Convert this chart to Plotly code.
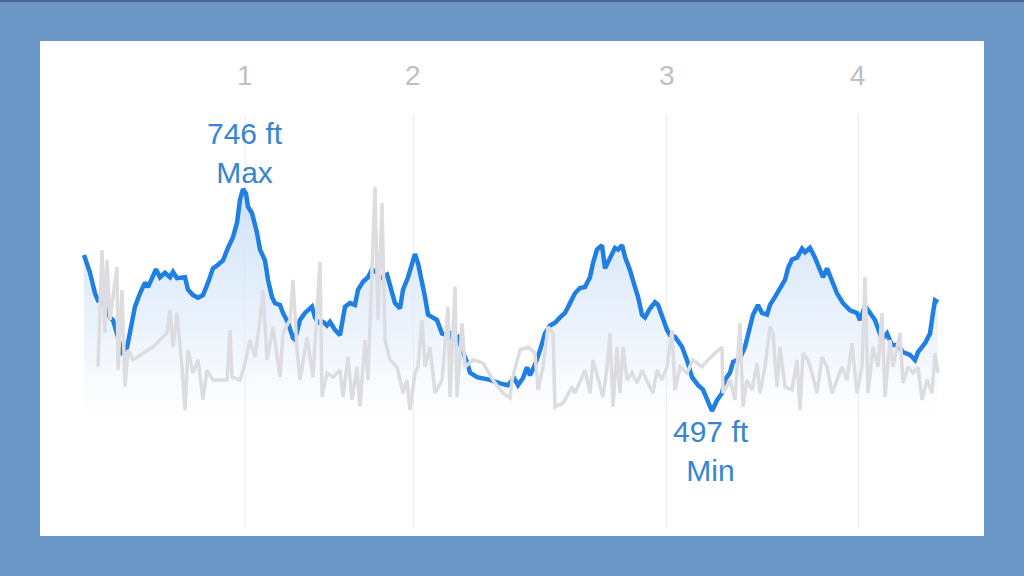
import plotly.graph_objects as go

# ---- Elevation (ft) vs elapsed time (min) ----
elev_time = [
    0.05, 0.35, 0.6, 0.75, 1.0, 1.2, 1.35, 1.5, 1.75, 1.95,
    2.2, 2.35, 2.6, 2.85, 3.1, 3.25, 3.45, 3.65, 3.85, 4.1,
    4.35, 4.5, 4.7, 4.95, 5.1, 5.25, 5.5, 5.75, 6.0, 6.25,
    6.5, 6.75, 7.0, 7.25, 7.5, 7.7, 7.85, 8.0, 8.15, 8.25,
    8.45, 8.7, 8.85, 9.1, 9.25, 9.45, 9.6, 9.85, 10.0, 10.25,
    10.5, 10.6, 10.85, 11.1, 11.45, 11.6, 11.75, 12.0, 12.2, 12.35,
    12.6, 12.85, 13.1, 13.35, 13.6, 13.75, 14.0, 14.25, 14.45, 14.7,
    14.85, 15.2, 15.35, 15.6, 15.85, 16.0, 16.25, 16.45, 16.6, 16.75,
    16.95, 17.1, 17.25, 17.5, 17.7, 17.95, 18.2, 18.35, 18.5, 18.75,
    18.95, 19.2, 19.35, 19.7, 20.35, 20.85, 21.25, 21.55, 21.75, 22.0,
    22.2, 22.35, 22.6, 22.85, 23.1, 23.35, 23.6, 23.85, 24.1, 24.35,
    24.6, 24.85, 25.1, 25.35, 25.5, 25.7, 25.95, 26.1, 26.35, 26.6,
    26.75, 26.95, 27.1, 27.35, 27.6, 27.75, 27.95, 28.1, 28.35, 28.6,
    28.75, 28.95, 29.2, 29.35, 29.6, 29.95, 30.2, 30.45, 30.75, 31.0,
    31.25, 31.45, 31.7, 31.95, 32.1, 32.35, 32.5, 32.85, 33.1, 33.35,
    33.5, 33.75, 33.95, 34.2, 34.35, 34.6, 34.85, 35.1, 35.25, 35.45,
    35.7, 35.95, 36.1, 36.35, 36.6, 36.85, 37.0, 37.2, 37.45, 37.7,
    38.0, 38.35, 38.7, 38.85, 39.1, 39.35, 39.6, 39.95, 40.2, 40.45,
    40.75, 41.0, 41.35, 41.6, 41.75, 42.1, 42.35, 42.5, 42.6, 42.75,
]
elevation_ft = [
    672, 652, 629, 621, 621, 612, 602, 599, 580, 563,
    568, 588, 614, 629, 641, 636, 646, 656, 647, 652,
    647, 653, 646, 647, 647, 633, 627, 624, 627, 641,
    657, 661, 666, 680, 692, 708, 734, 746, 741, 726,
    719, 697, 678, 666, 644, 625, 618, 616, 607, 596,
    579, 577, 599, 607, 614, 602, 596, 597, 593, 597,
    588, 582, 614, 618, 616, 633, 642, 647, 656, 652,
    646, 650, 636, 618, 612, 633, 647, 663, 673, 663,
    644, 625, 605, 602, 599, 584, 582, 584, 577, 580,
    565, 552, 540, 535, 532, 528, 526, 534, 526, 534,
    546, 537, 549, 565, 584, 593, 596, 602, 607, 618,
    629, 635, 636, 647, 663, 678, 683, 657, 670, 680,
    678, 683, 670, 655, 636, 625, 605, 602, 612, 619,
    616, 602, 588, 582, 580, 569, 554, 535, 526, 521,
    509, 497, 509, 517, 532, 540, 552, 556, 569, 591,
    605, 616, 607, 605, 616, 625, 635, 644, 657, 667,
    669, 679, 675, 680, 669, 657, 647, 657, 642, 629,
    618, 610, 607, 599, 615, 607, 599, 577, 584, 571,
    571, 563, 560, 554, 563, 573, 584, 607, 621, 619,
]

# ---- Speed (mph), grey background series ----
speed_time = [
    0.75, 0.95, 1.1, 1.2, 1.35, 1.7, 1.75, 1.95, 2.1, 2.25,
    2.5, 3.5, 4.2, 4.35, 4.5, 4.7, 4.95, 5.1, 5.25, 5.5,
    5.75, 6.0, 6.2, 6.5, 7.2, 7.35, 7.45, 7.85, 8.1, 8.35,
    8.6, 8.85, 9.0, 9.2, 9.5, 9.85, 10.0, 10.35, 10.5, 10.7,
    10.85, 11.2, 11.5, 11.85, 11.95, 12.2, 12.5, 12.85, 13.0, 13.25,
    13.45, 13.7, 13.85, 14.1, 14.25, 14.6, 14.75, 14.95, 15.1, 15.35,
    15.7, 16.0, 16.2, 16.35, 16.6, 16.75, 16.95, 17.1, 17.35, 17.6,
    17.95, 18.25, 18.35, 18.6, 18.7, 18.95, 19.1, 19.5, 20.0, 20.5,
    21.0, 21.35, 21.45, 21.85, 22.25, 22.6, 22.75, 23.0, 23.25, 23.5,
    23.6, 24.0, 24.45, 24.6, 25.1, 25.35, 25.5, 25.75, 26.0, 26.2,
    26.35, 26.5, 26.7, 26.85, 27.0, 27.2, 27.45, 27.7, 27.95, 28.25,
    28.5, 28.7, 28.95, 29.2, 29.45, 29.6, 29.85, 30.2, 30.5, 30.95,
    31.25, 31.6, 31.95, 32.0, 32.35, 32.6, 32.85, 33.0, 33.2, 33.45,
    33.7, 33.85, 34.1, 34.35, 34.5, 34.7, 34.85, 35.1, 35.45, 35.7,
    35.85, 36.0, 36.25, 36.45, 36.7, 36.95, 37.2, 37.45, 37.7, 37.95,
    38.2, 38.45, 38.7, 38.95, 39.1, 39.25, 39.5, 39.75, 39.95, 40.1,
    40.35, 40.5, 40.85, 41.0, 41.25, 41.5, 41.75, 41.95, 42.2, 42.45,
    42.6, 42.75,
]
speed_mph = [
    4.41, 8.06, 5.47, 7.75, 5.88, 7.53, 4.31, 6.81, 3.78, 4.94,
    4.63, 5.03, 5.47, 6.19, 5.03, 6.09, 4.41, 3.06, 4.94, 4.22,
    4.63, 3.38, 4.31, 4.0, 4.0, 5.56, 4.09, 4.0, 4.53, 5.25,
    4.72, 5.88, 6.81, 4.63, 5.66, 4.09, 5.47, 5.88, 7.13, 4.94,
    4.0, 5.34, 4.09, 7.69, 3.47, 4.22, 4.09, 4.31, 3.47, 4.72,
    3.38, 4.41, 3.16, 5.25, 4.0, 10.03, 5.88, 9.53, 5.25, 4.63,
    4.41, 3.59, 4.0, 3.06, 4.22, 4.41, 5.88, 4.41, 5.03, 3.59,
    4.0, 6.28, 3.47, 6.91, 3.47, 5.78, 4.41, 4.63, 4.53, 4.0,
    3.59, 3.44, 4.0, 4.94, 5.03, 4.84, 3.69, 4.41, 5.66, 5.47,
    3.16, 3.28, 3.78, 3.59, 4.31, 3.59, 4.63, 4.0, 3.47, 4.41,
    5.47, 3.16, 5.03, 3.59, 5.03, 4.0, 4.22, 3.91, 4.31, 3.91,
    3.59, 4.31, 4.0, 4.41, 5.56, 3.69, 4.41, 4.22, 4.63, 4.41,
    4.63, 4.84, 5.03, 3.59, 4.0, 3.38, 5.78, 3.16, 4.0, 3.69,
    4.53, 3.59, 4.41, 5.66, 5.47, 3.78, 5.03, 3.78, 3.69, 4.63,
    3.06, 4.84, 4.63, 4.22, 3.59, 4.72, 4.41, 3.59, 4.0, 4.41,
    4.0, 5.16, 3.59, 4.41, 7.22, 3.59, 5.03, 4.41, 6.09, 3.47,
    5.25, 4.41, 5.47, 3.91, 4.41, 4.22, 4.41, 3.38, 4.0, 3.59,
    4.84, 4.22,
]

# ---- Mile markers (elapsed minutes at each mile) ----
mile_times = [8.1, 16.52, 29.18, 38.77]
mile_labels = ["1", "2", "3", "4"]

assert len(elev_time) == len(elevation_ft)
assert len(speed_time) == len(speed_mph)

max_i = max(range(len(elevation_ft)), key=lambda i: elevation_ft[i])
min_i = min(range(len(elevation_ft)), key=lambda i: elevation_ft[i])

BLUE = "#1f7fe3"
TEXT_BLUE = "#3585d4"
GREY = "#dddde1"
FONT = "Liberation Sans, Arial, sans-serif"

fig = go.Figure()

# grey speed line (secondary axis)
fig.add_trace(go.Scatter(
    x=speed_time, y=speed_mph, yaxis="y2", mode="lines",
    line=dict(color=GREY, width=3.5), hoverinfo="skip", showlegend=False,
))

# elevation line with gradient fill
fig.add_trace(go.Scatter(
    x=elev_time, y=elevation_ft, mode="lines",
    line=dict(color=BLUE, width=4.5),
    fill="tozeroy",
    fillgradient=dict(
        type="vertical",
        start=490, stop=746,
        colorscale=[[0, "rgba(234,242,252,0)"],
                    [0.4, "rgba(228,238,251,0.75)"],
                    [1, "rgba(204,224,248,0.95)"]],
    ),
    showlegend=False,
))

shapes = []
for t in mile_times:
    shapes.append(dict(type="line", xref="x", yref="paper",
                       x0=t, x1=t, y0=0.016, y1=0.85,
                       line=dict(color="#ededf0", width=1.2), layer="below"))
# thin darker band at the very top of the canvas
shapes.append(dict(type="line", xref="paper", yref="paper",
                   x0=-0.05, x1=1.05, y0=1.081, y1=1.081,
                   line=dict(color="#46668f", width=2)))

annotations = []
for t, lab in zip(mile_times, mile_labels):
    annotations.append(dict(x=t, y=0.931, xref="x", yref="paper",
                            text=lab, showarrow=False,
                            font=dict(family=FONT, size=28, color="#c0c0c0"),
                            xanchor="center", yanchor="middle"))
annotations.append(dict(x=elev_time[max_i] + 0.1, y=0.774, xref="x", yref="paper",
                        text=f"{elevation_ft[max_i]} ft<br>Max", showarrow=False,
                        font=dict(family=FONT, size=30, color=TEXT_BLUE),
                        xanchor="center", yanchor="middle"))
annotations.append(dict(x=elev_time[min_i] - 0.05, y=0.172, xref="x", yref="paper",
                        text=f"{elevation_ft[min_i]} ft<br>Min", showarrow=False,
                        font=dict(family=FONT, size=30, color=TEXT_BLUE),
                        xanchor="center", yanchor="middle"))

fig.update_layout(
    width=1024, height=576,
    margin=dict(l=40, r=40, t=41, b=40),
    paper_bgcolor="#6a97c5",
    plot_bgcolor="#ffffff",
    xaxis=dict(range=[-2.15, 45.05], visible=False, fixedrange=True),
    yaxis=dict(range=[356.8, 912.0], visible=False, fixedrange=True),
    yaxis2=dict(range=[-0.875, 14.594], overlaying="y", visible=False, fixedrange=True),
    shapes=shapes,
    annotations=annotations,
    showlegend=False,
    hovermode=False,
)

fig.write_html(
    "out.html",
    config={"displayModeBar": False},
    post_script="document.body.style.margin='0';document.body.style.padding='0';"
                "document.body.style.overflow='hidden';",
)
